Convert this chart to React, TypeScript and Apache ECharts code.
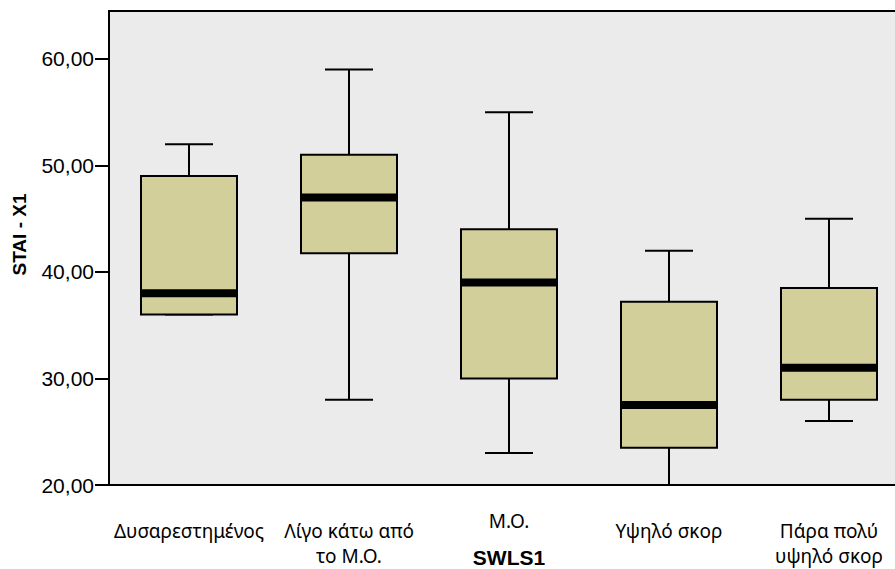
import React, { useEffect, useRef } from "react";
import * as echarts from "echarts";

const categories = [
  "Δυσαρεστημένος",
  "Λίγο κάτω από\nτο Μ.Ο.",
  "Μ.Ο.",
  "Υψηλό σκορ",
  "Πάρα πολύ\nυψηλό σκορ",
];
const whiskerLow = [36, 28, 23, 20, 26];
const q1 = [36, 41.75, 30, 23.5, 28];
const median = [38, 47, 39, 27.5, 31];
const q3 = [49, 51, 44, 37.2, 38.5];
const whiskerHigh = [52, 59, 55, 42, 45];
const yTicks = [20, 30, 40, 50, 60];

export default function App() {
  const ref = useRef<HTMLDivElement>(null);
  useEffect(() => {
    if (!ref.current) return;
    const chart = echarts.init(ref.current, null, { renderer: "svg" });
    const data = categories.map((_, i) => [
      i,
      whiskerLow[i],
      q1[i],
      median[i],
      q3[i],
      whiskerHigh[i],
    ]);
    const renderItem = (params: any, api: any) => {
      const x = api.value(0);
      const band = api.size([1, 0])[0];
      const boxW = band * 0.6;
      const capW = band * 0.3;
      const pMin = api.coord([x, api.value(1)]);
      const pQ1 = api.coord([x, api.value(2)]);
      const pMed = api.coord([x, api.value(3)]);
      const pQ3 = api.coord([x, api.value(4)]);
      const pMax = api.coord([x, api.value(5)]);
      const cx = pMed[0];
      const lineStyle = { stroke: "#000", lineWidth: 2 };
      return {
        type: "group",
        children: [
          {
            type: "line",
            shape: { x1: cx, y1: pMax[1], x2: cx, y2: pQ3[1] },
            style: lineStyle,
          },
          {
            type: "line",
            shape: { x1: cx, y1: pQ1[1], x2: cx, y2: pMin[1] },
            style: lineStyle,
          },
          {
            type: "line",
            shape: { x1: cx - capW / 2, y1: pMax[1], x2: cx + capW / 2, y2: pMax[1] },
            style: lineStyle,
          },
          {
            type: "line",
            shape: { x1: cx - capW / 2, y1: pMin[1], x2: cx + capW / 2, y2: pMin[1] },
            style: lineStyle,
          },
          {
            type: "rect",
            shape: { x: cx - boxW / 2, y: pQ3[1], width: boxW, height: pQ1[1] - pQ3[1] },
            style: { fill: "#d3cf9b", stroke: "#000", lineWidth: 2 },
          },
          {
            type: "rect",
            shape: { x: cx - boxW / 2, y: pMed[1] - 4, width: boxW, height: 8 },
            style: { fill: "#000" },
          },
        ],
      };
    };
    chart.setOption({
      animation: false,
      backgroundColor: "#ffffff",
      grid: {
        left: 109,
        top: 11,
        width: 800,
        height: 474,
        outerBoundsMode: "none",
        containLabel: false,
        show: true,
        backgroundColor: "#ebebeb",
        borderColor: "#000",
        borderWidth: 2,
      },
      xAxis: {
        type: "category",
        data: categories.map((c) =>
          c === "Μ.Ο." ? { value: c, textStyle: { lineHeight: 6 } } : c
        ),
        boundaryGap: true,
        name: "SWLS1",
        nameLocation: "middle",
        nameGap: 72,
        nameMoveOverlap: false,
        nameTextStyle: {
          fontFamily: "Liberation Sans",
          fontWeight: "bold",
          fontSize: 21,
          color: "#000",
          verticalAlign: "middle",
        },
        axisLine: { lineStyle: { color: "#000", width: 2 } },
        axisTick: {
          alignWithLabel: true,
          length: 16,
          lineStyle: { color: "#000", width: 2 },
        },
        axisLabel: {
          interval: 0,
          margin: 33,
          lineHeight: 25,
          fontFamily: "Noto Sans",
          fontSize: 19,
          color: "#000",
        },
        splitLine: { show: false },
      },
      yAxis: {
        type: "value",
        min: 20,
        max: 64.5,
        name: "STAI - X1",
        nameLocation: "middle",
        nameGap: 90,
        nameMoveOverlap: false,
        nameTextStyle: {
          fontFamily: "Liberation Sans",
          fontWeight: "bold",
          fontSize: 19,
          color: "#000",
          verticalAlign: "middle",
          padding: [0, 0, 0, 27],
        },
        axisLine: { show: false },
        axisTick: {
          show: true,
          length: 14,
          customValues: yTicks,
          lineStyle: { color: "#000", width: 2 },
        },
        axisLabel: {
          customValues: yTicks,
          margin: 15,
          fontFamily: "Liberation Sans",
          fontSize: 21,
          color: "#000",
          formatter: (v: number) => v.toFixed(2).replace(".", ","),
        },
        splitLine: { show: false },
      },
      series: [
        {
          type: "custom",
          clip: false,
          encode: { x: 0, y: [1, 2, 3, 4, 5] },
          data,
          renderItem,
        },
      ],
    });
    return () => chart.dispose();
  }, []);
  return (
    <div
      ref={ref}
      style={{ position: "absolute", left: 0, top: 0, width: 895, height: 569 }}
    />
  );
}
